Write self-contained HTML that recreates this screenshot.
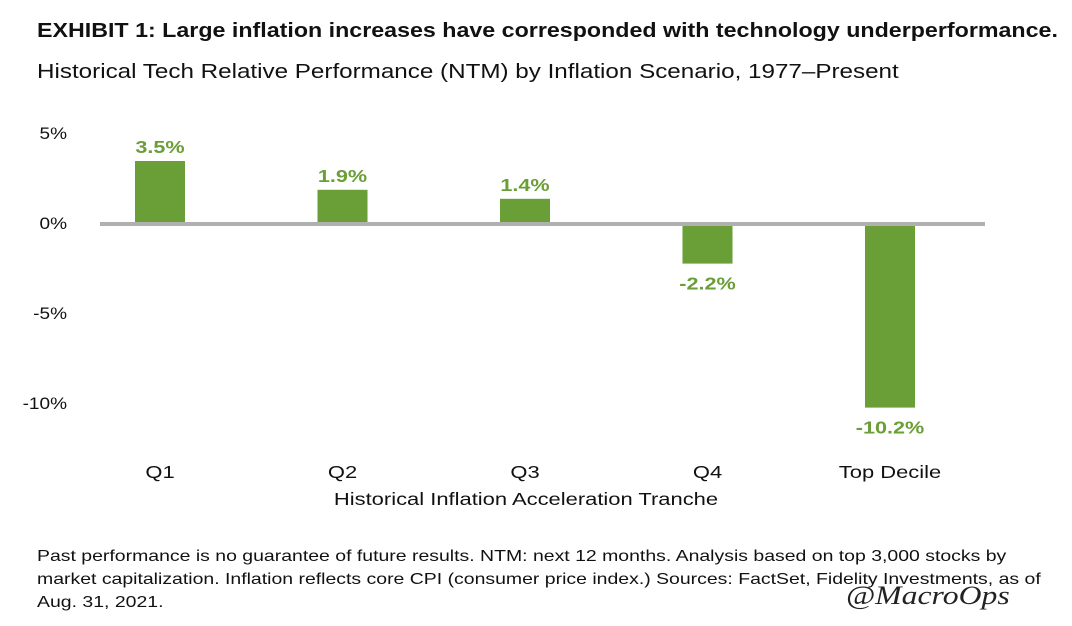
<!DOCTYPE html>
<html><head><meta charset="utf-8"><style>
body{margin:0;width:1072px;height:626px;background:#fff;font-family:"Liberation Sans",sans-serif;color:#111;position:relative;overflow:hidden}
.t{position:absolute;white-space:nowrap;transform-origin:0 0}
</style></head><body>
<div class="t" style="left:37px;top:19px;font-size:20.5px;font-weight:bold;transform:scaleX(1.133)">EXHIBIT 1: Large inflation increases have corresponded with technology underperformance.</div>
<div class="t" style="left:37px;top:61px;font-size:20px;transform:scaleX(1.21)">Historical Tech Relative Performance (NTM) by Inflation Scenario, 1977–Present</div>
<svg id="c" width="1072" height="530" style="position:absolute;left:0;top:0"></svg>
<div class="t" style="left:37px;top:545px;font-size:16px;line-height:23px;transform:scaleX(1.215)">Past performance is no guarantee of future results. NTM: next 12 months. Analysis based on top 3,000 stocks by<br>market capitalization. Inflation reflects core CPI (consumer price index.) Sources: FactSet, Fidelity Investments, as of<br>Aug. 31, 2021.</div>
<div class="t" style="left:846px;top:581px;font-size:26px;font-family:'Liberation Serif',serif;font-style:italic;color:#222;transform:scaleX(1.22)">@MacroOps</div>
<script>
const categories=["Q1","Q2","Q3","Q4","Top Decile"];
const values=[3.5,1.9,1.4,-2.2,-10.2];
const valueLabels=["3.5%","1.9%","1.4%","-2.2%","-10.2%"];
const ticks=[5,0,-5,-10];
const tickLabels=["5%","0%","-5%","-10%"];
const svg=document.getElementById('c');const NS="http://www.w3.org/2000/svg";
const y=v=>224-v*18;
const x=i=>160+i*182.5;
function mk(t,a,txt){const e=document.createElementNS(NS,t);for(const k in a)e.setAttribute(k,a[k]);if(txt!=null)e.textContent=txt;svg.appendChild(e);return e;}
function tx(px,py,s,a,txt){const e=mk('text',Object.assign({x:0,y:0,transform:`translate(${px},${py}) scale(${s},1)`},a),txt);return e;}
ticks.forEach((t,i)=>{const e=tx(67,y(t)+5,1.12,{'text-anchor':'end','font-size':17,fill:'#111'},tickLabels[i]);

});
values.forEach((v,i)=>{const top=Math.min(y(v),y(0)),h=Math.abs(y(v)-y(0));
const r=mk('rect',{x:x(i)-25,y:top,width:50,height:h,fill:'#6a9e36'});


const ly=v>=0?y(v)-8:y(v)+26;
const l=tx(x(i),ly,1.2,{'text-anchor':'middle','font-size':18,'font-weight':'bold',fill:'#6a9e36'},valueLabels[i]);


const c=tx(x(i),478,1.22,{'text-anchor':'middle','font-size':18,fill:'#111'},categories[i]);

});
const z=mk('line',{x1:100,x2:985,y1:y(0),y2:y(0),stroke:'#b0b0b0','stroke-width':4});


const xt=tx(526,505,1.22,{'text-anchor':'middle','font-size':18,fill:'#111'},'Historical Inflation Acceleration Tranche');


</script>
</body></html>
